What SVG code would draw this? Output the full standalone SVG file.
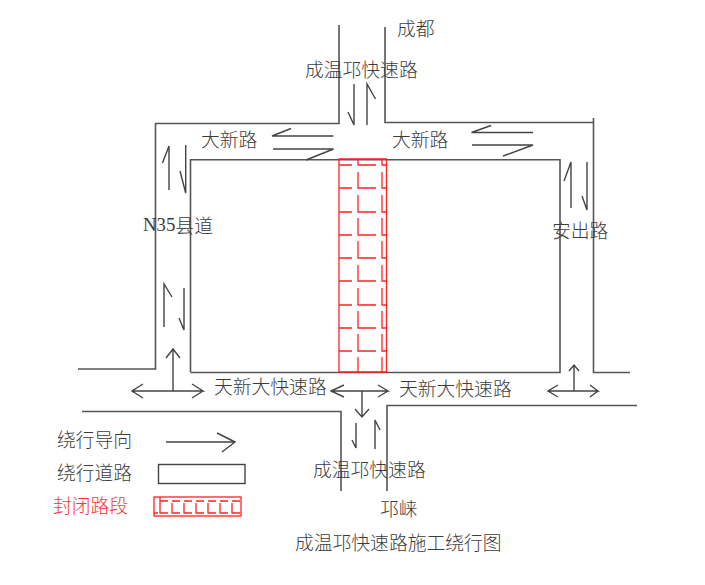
<svg xmlns="http://www.w3.org/2000/svg" width="705" height="585" viewBox="0 0 705 585">
<style>
text{font-family:"Noto Sans CJK SC","Noto Sans",sans-serif;font-size:18.8px;fill:#3c3c3c;font-weight:300;dominant-baseline:central}
.latin{font-family:"Liberation Serif",serif}
.road{fill:none;stroke:#555;stroke-width:1.6}
.arr{fill:none;stroke:#444;stroke-width:1.4}
.red{fill:none;stroke:#f22;stroke-width:1.3}
.redt{fill:#f33}
</style>
<rect width="705" height="585" fill="#fff"/>
<g id="connectors">
<g id="roads" class="road">
<path d="M339 25V123.500H155.500V369H78"/>
<path d="M385 27V122.500H593"/>
<path d="M593.500 118V372.500H630"/>
<path d="M190.500 372V159.800H560V372.500H190.500"/>
<path d="M82 411.500H341V491"/>
<path d="M387 491V405.500H637"/>
</g>
<g id="arrows" class="arr">
<path d="M354 84V125L348 112"/>
<path d="M367 125V84L375.500 99"/>
<path d="M333.500 136H272L291 128.500"/>
<path d="M273 149H333.500L306 160"/>
<path d="M533 132.500H471.500L491 125.500"/>
<path d="M472 145H533L503 156"/>
<path d="M169 190V146L162.500 163"/>
<path d="M185.700 145V193L180 171"/>
<path d="M164 327V284L172 297"/>
<path d="M184 288V330L179 318"/>
<path d="M571 208V162L564 181"/>
<path d="M587 162V210L582 196"/>
<path d="M356 423V448L352 440"/>
<path d="M375 449V420L380 430"/>
<path d="M143 384L132 391L143 398M132 391H203L192 384M203 391L192 398"/>
<path d="M173 391V349M166 358L173 349L180 358"/>
<path d="M344 385L331 391L344 397M331 391H388L378 385M388 391L378 397"/>
<path d="M362 391V417M355 409L362 417L369 409"/>
<path d="M558 385L548 391L558 397M548 391H598L590 385M598 391L590 397"/>
<path d="M574 391V365M569 371L574 365L579 371"/>
<path d="M166 442H235M217 433L235 442L222 452"/>
</g>
</g>
<g id="closed-section" class="red">
<path id="brick" d="M339 159H386.500V372H339Z"/>
<path d="M339 165H352M358 159V165H376M382 159V165H386M339 188H352M358 172V188H376M382 172V188H386M339 212H352M358 195V212H376M382 195V212H386M339 235H352M358 218V235H376M382 218V235H386M339 258H352M358 241V258H376M382 241V258H386M339 281H352M358 265V281H376M382 265V281H386M339 305H352M358 288V305H376M382 288V305H386M339 328H352M358 311V328H376M382 311V328H386M339 351H352M358 334V351H376M382 334V351H386M358 357V372M382 357V372"/>
</g>
<g id="legend-road"><rect class="arr" x="158.500" y="464.500" width="86.500" height="19"/></g>
<g id="legend-closed" class="red">
<rect x="154" y="497" width="87" height="19"/>
<path d="M154 513H158M160 497V513H168M172 503V513H180M184 503V513H192M196 503V513H204M208 503V513H216M220 503V513H228M232 503V513H240M160 501H168M172 501H180M184 501H192M196 501H204M208 501H216M220 501H228M232 501H240"/>
</g>
<g id="labels">
<text x="397" y="27">成都</text>
<text x="305" y="68">成温邛快速路</text>
<text x="201" y="138">大新路</text>
<text x="392" y="138">大新路</text>
<text x="143" y="224"><tspan class="latin">N35</tspan>县道</text>
<text x="552" y="229">安出路</text>
<text x="214" y="385">天新大快速路</text>
<text x="399" y="387">天新大快速路</text>
<text x="313" y="468">成温邛快速路</text>
<text x="380" y="507">邛崃</text>
<text x="295" y="541">成温邛快速路施工绕行图</text>
<text x="57" y="438">绕行导向</text>
<text x="57" y="471">绕行道路</text>
<text x="53" y="504" class="redt">封闭路段</text>
</g>
</svg>
